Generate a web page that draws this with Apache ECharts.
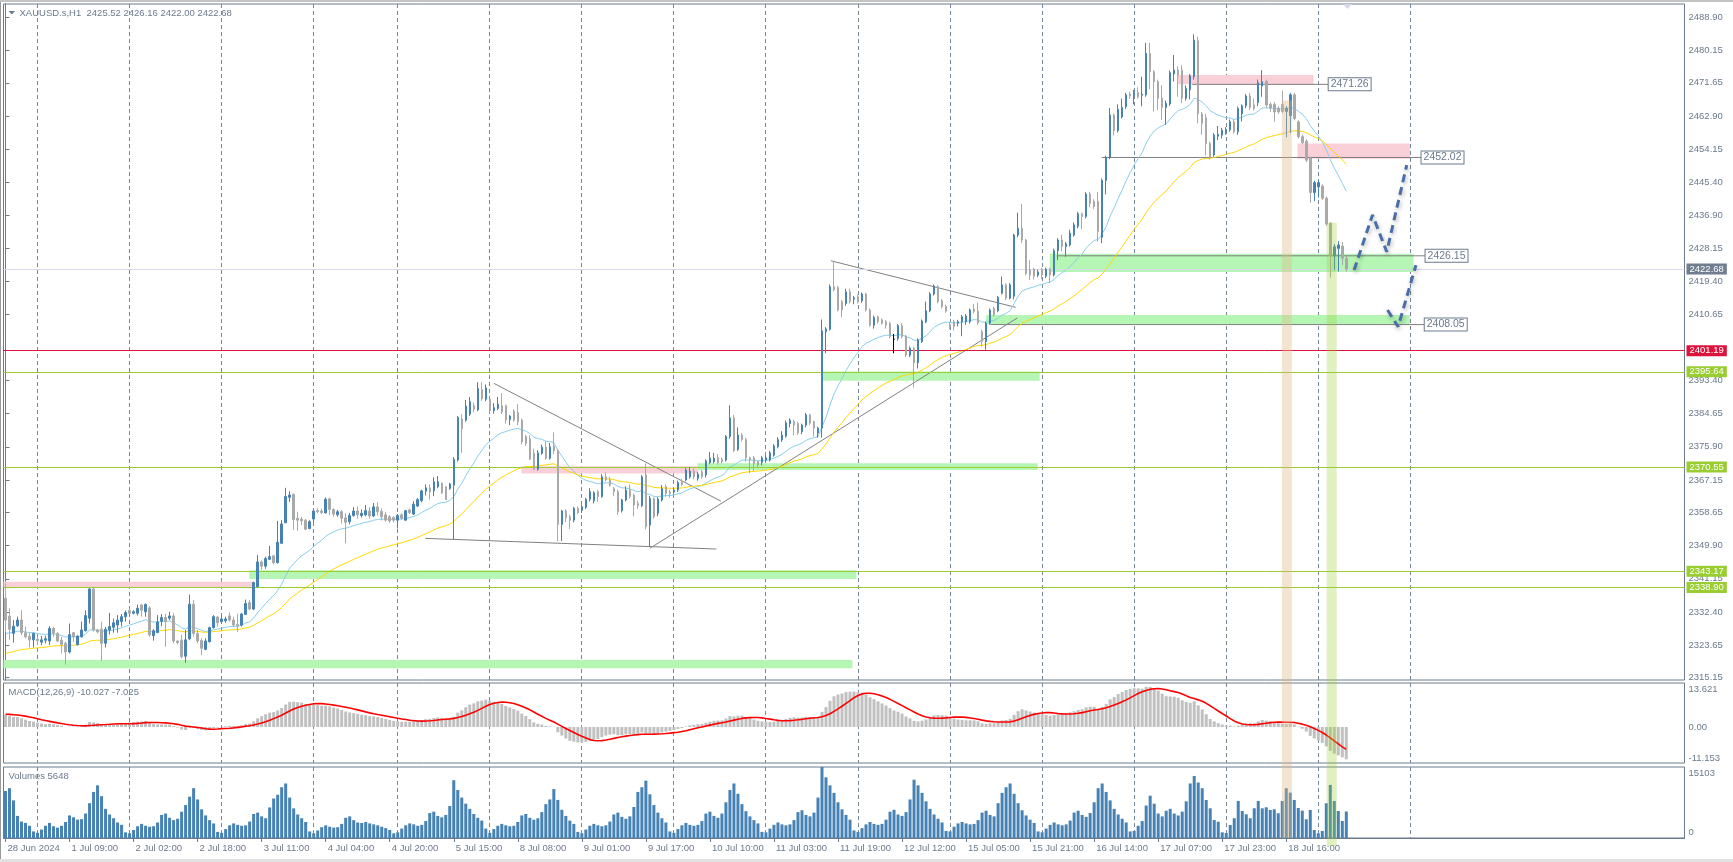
<!DOCTYPE html>
<html><head><meta charset="utf-8">
<script src="https://cdn.jsdelivr.net/npm/echarts@6/dist/echarts.min.js"></script>
<style>html,body{margin:0;padding:0;background:#fff;overflow:hidden}#c{width:1733px;height:862px}</style>
</head><body><div id="c"></div>
<script>
// ---------- DATA ----------
// trading sessions of the H1 bars: [day, first hour, last hour]
const sessions = [['28 Jun',16,23],['1 Jul',1,23],['2 Jul',1,23],['3 Jul',1,23],['4 Jul',1,21],['5 Jul',1,23],['8 Jul',1,23],['9 Jul',1,23],['10 Jul',1,23],['11 Jul',1,23],['12 Jul',1,23],['15 Jul',1,23],['16 Jul',1,23],['17 Jul',1,23],['18 Jul',1,23],['19 Jul',1,8]];
// time-axis tick labels (one every 16 bars)
const xTickLabels = ['28 Jun 2024','1 Jul 09:00','2 Jul 02:00','2 Jul 18:00','3 Jul 11:00','4 Jul 04:00','4 Jul 20:00','5 Jul 15:00','8 Jul 08:00','9 Jul 01:00','9 Jul 17:00','10 Jul 10:00','11 Jul 03:00','11 Jul 19:00','12 Jul 12:00','15 Jul 05:00','15 Jul 21:00','16 Jul 14:00','17 Jul 07:00','17 Jul 23:00','18 Jul 16:00'];
const xTickStep = 16;
// bar index of each day start (vertical dashed grid)
const dayStarts = [8,31,54,77,98,121,144,167,190,213,236,259,282,305,328,351];
// price axis tick labels
const priceTicks = [2488.90,2480.15,2471.65,2462.90,2454.15,2445.40,2436.90,2428.15,2419.40,2410.65,2393.40,2384.65,2375.90,2367.15,2358.65,2349.90,2341.15,2332.40,2323.65,2315.15];
const priceRange = [2314.54, 2492.40];
const macdRange = [-11.153, 13.621];
const macdAxisLabels = ['13.621','0.00','-11.153'];
const volRange = [0, 15103];
const volAxisLabels = ['15103','0'];

// candles per day: [open, high, low, close]
const c28Jun = [[2336.0,2339.9,2327.2,2330.3],[2331.3,2333.4,2325.1,2327.9],[2326.8,2330.3,2324.4,2328.7],[2328.8,2331.2,2328.5,2330.3],[2330.3,2332.9,2326.4,2327.0],[2327.0,2328.6,2325.5,2325.9],[2326.0,2327.0,2323.1,2325.1],[2325.1,2327.0,2323.1,2326.8]];
const c01Jul = [[2325.3,2326.0,2323.8,2324.9],[2324.5,2326.1,2323.7,2325.1],[2325.0,2326.2,2324.2,2325.4],[2324.8,2328.7,2323.7,2328.1],[2328.1,2328.5,2325.9,2326.8],[2326.8,2327.2,2324.5,2324.8],[2325.0,2325.9,2321.5,2323.9],[2324.2,2324.6,2318.6,2321.9],[2321.9,2329.4,2321.5,2326.5],[2327.0,2327.2,2324.6,2325.9],[2323.8,2326.3,2323.7,2326.1],[2325.9,2329.9,2325.7,2327.7],[2327.5,2332.9,2327.3,2331.5],[2330.8,2338.7,2329.4,2338.5],[2338.5,2338.8,2327.3,2327.7],[2327.7,2328.0,2326.8,2327.2],[2327.9,2329.9,2319.5,2324.2],[2324.2,2328.5,2323.1,2327.9],[2327.7,2332.2,2326.5,2328.6],[2328.4,2330.7,2327.0,2329.6],[2329.0,2331.6,2327.0,2330.3],[2329.9,2331.9,2328.6,2331.2],[2331.2,2332.8,2329.9,2332.3]];
const c02Jul = [[2332.8,2333.4,2332.0,2332.1],[2332.1,2332.9,2331.8,2332.5],[2332.1,2334.4,2331.5,2333.4],[2334.3,2334.5,2331.2,2332.9],[2332.5,2334.7,2331.2,2334.4],[2333.5,2334.0,2325.9,2326.4],[2326.2,2327.9,2324.9,2327.5],[2327.0,2331.6,2327.0,2329.8],[2330.0,2331.9,2328.7,2331.0],[2331.0,2332.0,2323.3,2329.9],[2330.8,2332.5,2330.3,2331.4],[2331.4,2332.1,2324.2,2324.8],[2324.8,2325.0,2323.9,2324.4],[2325.0,2326.4,2320.2,2320.7],[2320.8,2327.7,2319.1,2325.1],[2325.4,2337.0,2325.0,2334.5],[2334.5,2335.6,2325.9,2326.8],[2326.8,2327.7,2324.2,2324.8],[2324.9,2325.5,2321.1,2322.9],[2322.6,2325.5,2322.4,2324.8],[2324.6,2328.6,2324.4,2328.3],[2328.3,2331.6,2328.1,2331.2],[2331.1,2331.4,2328.6,2329.6]];
const c03Jul = [[2329.9,2331.6,2329.4,2330.6],[2330.1,2331.2,2329.6,2330.6],[2331.4,2332.3,2329.9,2330.3],[2330.3,2331.2,2328.6,2329.0],[2329.2,2332.0,2327.2,2328.8],[2329.0,2332.2,2328.6,2331.9],[2331.8,2335.7,2331.7,2334.7],[2334.9,2335.6,2332.9,2333.2],[2333.2,2340.4,2332.9,2340.2],[2339.1,2347.4,2338.9,2345.6],[2345.6,2346.0,2343.5,2344.5],[2344.5,2347.0,2343.8,2346.5],[2346.3,2349.8,2346.1,2347.0],[2347.2,2347.4,2345.0,2345.4],[2345.4,2356.4,2345.2,2350.8],[2350.5,2356.6,2350.5,2355.6],[2355.9,2365.1,2355.9,2362.8],[2362.6,2364.2,2361.4,2363.2],[2363.4,2363.6,2354.0,2356.8],[2357.1,2358.8,2353.8,2356.6],[2356.9,2357.5,2355.3,2356.4],[2356.6,2356.9,2354.0,2354.2],[2354.4,2356.6,2354.2,2356.2]];
const c04Jul = [[2356.9,2359.3,2355.9,2359.0],[2359.1,2359.7,2358.4,2358.8],[2359.0,2359.6,2358.2,2358.6],[2358.5,2362.6,2358.4,2362.1],[2362.2,2362.5,2357.9,2359.4],[2359.4,2359.7,2357.5,2358.2],[2358.0,2359.3,2357.5,2358.8],[2358.8,2359.2,2355.7,2357.1],[2357.2,2358.4,2350.5,2356.0],[2356.2,2358.5,2355.5,2357.8],[2357.8,2360.0,2357.5,2359.0],[2359.0,2360.2,2357.0,2358.0],[2357.8,2359.4,2357.3,2358.4],[2358.0,2360.6,2357.6,2359.1],[2359.0,2360.0,2357.0,2357.7],[2357.7,2361.1,2357.4,2360.1],[2360.1,2361.3,2357.8,2358.8],[2358.9,2359.7,2356.5,2357.5],[2358.0,2358.8,2356.2,2356.6],[2357.5,2357.9,2355.9,2356.4],[2357.3,2357.6,2356.0,2356.6]];
const c05Jul = [[2356.6,2358.2,2354.4,2357.8],[2358.0,2358.4,2356.7,2357.1],[2356.6,2359.3,2356.4,2359.1],[2359.3,2359.6,2358.2,2358.6],[2358.2,2361.6,2358.0,2360.8],[2360.3,2362.4,2360.1,2362.0],[2361.7,2364.6,2361.3,2364.3],[2364.2,2366.0,2363.1,2365.1],[2365.1,2366.0,2362.0,2364.0],[2364.3,2367.9,2362.9,2366.7],[2365.4,2368.2,2365.0,2366.7],[2366.3,2366.5,2363.5,2363.8],[2365.4,2365.6,2361.9,2362.0],[2364.9,2366.4,2364.6,2366.1],[2365.8,2373.2,2351.5,2372.6],[2372.4,2384.0,2372.0,2383.6],[2383.2,2384.5,2374.3,2380.7],[2382.9,2388.2,2382.5,2386.6],[2384.5,2389.0,2384.0,2387.8],[2386.7,2387.5,2385.0,2385.8],[2385.6,2392.9,2385.3,2391.2],[2391.0,2392.9,2388.0,2388.6],[2388.4,2392.3,2387.9,2391.4]];
const c08Jul = [[2388.4,2388.5,2384.9,2385.4],[2385.4,2387.4,2384.6,2386.2],[2386.0,2389.0,2385.5,2387.1],[2386.7,2390.0,2384.5,2385.1],[2386.7,2387.0,2382.0,2382.9],[2383.1,2384.2,2381.6,2384.0],[2385.3,2385.8,2382.5,2382.9],[2384.9,2387.1,2381.6,2382.5],[2382.9,2383.3,2376.5,2377.2],[2378.6,2379.0,2376.1,2376.8],[2377.9,2378.9,2372.4,2372.7],[2374.2,2375.4,2369.7,2370.0],[2370.0,2375.0,2369.6,2374.3],[2374.2,2376.5,2373.8,2375.8],[2375.8,2377.3,2372.5,2372.9],[2372.9,2376.9,2372.5,2375.9],[2376.1,2379.7,2374.0,2374.9],[2374.9,2375.3,2351.1,2355.5],[2355.5,2359.3,2351.1,2359.0],[2359.0,2359.5,2356.1,2357.2],[2357.5,2358.0,2354.3,2356.6],[2356.6,2360.1,2356.0,2359.7],[2359.7,2360.2,2358.2,2358.6]];
const c09Jul = [[2359.2,2360.6,2358.5,2360.1],[2360.0,2362.5,2359.5,2362.1],[2362.1,2365.0,2361.5,2364.1],[2361.7,2364.2,2361.0,2363.8],[2364.1,2364.5,2361.4,2362.8],[2362.8,2368.7,2362.5,2368.0],[2368.0,2369.1,2366.8,2367.2],[2367.2,2368.0,2365.4,2365.8],[2364.9,2365.3,2363.0,2364.1],[2364.1,2364.6,2358.0,2358.8],[2359.1,2362.2,2358.6,2361.9],[2361.9,2365.5,2361.5,2364.5],[2364.5,2366.0,2362.3,2362.8],[2363.2,2363.6,2357.6,2360.6],[2361.0,2361.7,2359.6,2360.4],[2360.4,2368.5,2360.0,2368.0],[2368.5,2371.5,2354.2,2354.9],[2355.3,2363.0,2349.6,2362.3],[2362.3,2362.6,2357.0,2357.5],[2358.4,2362.6,2357.6,2362.1],[2361.9,2365.8,2361.5,2364.9],[2365.4,2366.0,2362.8,2363.6],[2364.0,2364.6,2362.5,2363.6]];
const c10Jul = [[2364.0,2365.0,2363.5,2364.5],[2364.5,2367.0,2364.0,2366.5],[2366.5,2367.5,2365.5,2366.0],[2367.2,2370.3,2366.8,2369.8],[2368.0,2370.5,2367.5,2369.5],[2369.5,2370.2,2367.3,2368.0],[2367.6,2369.3,2367.0,2368.7],[2369.3,2369.8,2367.5,2368.0],[2368.5,2372.6,2367.8,2372.2],[2371.7,2374.5,2371.3,2372.9],[2372.0,2374.3,2371.5,2372.9],[2373.0,2374.0,2371.2,2371.7],[2372.6,2373.1,2371.5,2372.0],[2372.4,2379.0,2372.0,2378.6],[2378.6,2386.8,2378.0,2383.5],[2383.5,2384.3,2374.5,2374.9],[2375.2,2381.0,2374.8,2379.0],[2379.0,2379.5,2377.3,2377.8],[2377.8,2378.3,2372.0,2373.0],[2373.0,2373.3,2369.0,2372.4],[2373.0,2373.5,2369.5,2371.5],[2372.0,2372.3,2370.2,2371.1],[2371.8,2373.5,2371.0,2373.0]];
const c11Jul = [[2372.4,2373.5,2372.0,2373.0],[2372.4,2374.8,2372.0,2374.3],[2373.7,2376.6,2373.3,2376.1],[2375.9,2378.4,2375.5,2377.8],[2377.7,2380.0,2377.2,2379.0],[2378.7,2382.8,2378.3,2382.2],[2382.0,2383.4,2381.0,2382.9],[2382.5,2383.0,2378.9,2381.6],[2382.0,2382.4,2379.0,2379.6],[2379.9,2382.0,2379.2,2381.6],[2381.6,2384.8,2381.0,2384.3],[2384.3,2384.6,2381.6,2382.1],[2382.5,2382.8,2378.6,2380.8],[2379.5,2381.2,2378.3,2380.8],[2380.8,2409.4,2378.3,2406.4],[2406.2,2407.4,2400.5,2406.9],[2406.8,2418.6,2406.5,2418.0],[2418.0,2424.8,2416.8,2417.2],[2417.8,2418.2,2411.5,2411.9],[2414.1,2414.5,2410.0,2411.9],[2413.6,2417.5,2413.0,2416.7],[2416.7,2417.5,2413.6,2414.1],[2414.7,2415.6,2413.4,2415.1]];
const c12Jul = [[2415.4,2416.0,2413.6,2414.1],[2414.3,2416.5,2413.8,2416.1],[2416.1,2416.4,2411.5,2411.9],[2411.9,2412.3,2407.5,2407.9],[2407.9,2410.4,2407.0,2409.9],[2410.1,2410.4,2408.3,2408.8],[2409.3,2409.7,2408.0,2408.4],[2408.8,2409.3,2407.0,2407.9],[2408.4,2408.8,2404.4,2404.9],[2404.2,2405.6,2400.5,2404.2],[2404.4,2408.2,2403.8,2407.8],[2407.8,2408.4,2404.4,2404.9],[2405.0,2405.3,2399.5,2400.0],[2400.0,2402.3,2399.5,2401.8],[2401.8,2402.2,2391.5,2398.0],[2398.0,2404.4,2396.5,2404.0],[2403.6,2409.4,2403.2,2409.0],[2408.8,2414.1,2408.4,2411.7],[2411.7,2416.6,2411.3,2416.1],[2416.1,2418.6,2415.7,2418.2],[2418.0,2418.4,2413.6,2414.1],[2414.3,2414.8,2412.3,2412.8],[2412.9,2413.3,2411.2,2411.6]];
const c15Jul = [[2408.1,2408.6,2406.8,2407.5],[2408.8,2409.3,2406.5,2407.5],[2408.4,2409.3,2407.6,2408.8],[2408.8,2410.6,2405.0,2410.1],[2408.8,2410.8,2408.0,2410.3],[2408.8,2412.3,2408.3,2411.9],[2412.1,2413.5,2411.0,2411.5],[2411.6,2413.8,2408.0,2408.5],[2406.2,2406.8,2402.2,2403.6],[2403.6,2408.8,2401.4,2408.4],[2408.4,2412.3,2408.0,2411.9],[2412.3,2412.7,2410.2,2410.6],[2411.7,2415.6,2411.3,2415.2],[2416.3,2420.7,2416.0,2418.5],[2418.5,2418.9,2414.5,2415.0],[2415.0,2419.0,2414.7,2418.5],[2415.5,2431.9,2414.7,2431.6],[2431.6,2437.5,2431.0,2433.4],[2433.4,2439.8,2429.5,2430.3],[2430.3,2430.6,2421.0,2421.5],[2422.4,2425.0,2419.8,2421.1],[2422.6,2423.0,2419.9,2420.8],[2421.1,2422.5,2420.5,2421.9]];
const c16Jul = [[2422.6,2423.0,2420.0,2421.1],[2420.8,2423.0,2420.3,2422.6],[2422.6,2423.0,2419.0,2421.1],[2421.1,2428.0,2420.7,2427.5],[2427.5,2430.8,2425.0,2430.3],[2430.3,2431.7,2427.3,2428.6],[2428.6,2429.8,2425.9,2429.3],[2429.0,2433.0,2428.6,2432.1],[2431.6,2434.9,2431.2,2434.3],[2433.9,2437.7,2433.4,2437.2],[2437.2,2437.5,2433.2,2436.5],[2436.5,2442.9,2436.0,2442.4],[2442.4,2443.0,2438.9,2439.9],[2440.4,2441.0,2438.5,2439.1],[2440.5,2442.9,2429.9,2432.5],[2431.0,2446.5,2429.5,2446.0],[2446.0,2452.5,2442.3,2452.0],[2452.0,2465.0,2451.6,2463.2],[2463.2,2463.6,2457.8,2459.1],[2459.1,2466.0,2458.6,2464.7],[2462.7,2467.5,2462.3,2465.2],[2465.4,2469.0,2464.8,2468.5],[2468.7,2469.3,2467.5,2468.2]];
const c17Jul = [[2468.5,2469.8,2466.0,2469.1],[2469.1,2470.5,2467.5,2468.0],[2468.4,2473.3,2465.5,2468.7],[2468.5,2482.2,2468.0,2479.4],[2479.4,2482.2,2470.0,2474.6],[2474.6,2475.0,2464.1,2472.0],[2472.0,2472.5,2464.5,2467.6],[2467.6,2471.0,2461.9,2465.2],[2465.2,2467.0,2460.6,2466.3],[2466.1,2474.9,2465.6,2474.3],[2474.0,2479.0,2472.0,2475.0],[2475.0,2476.0,2468.0,2473.7],[2475.0,2476.3,2466.3,2467.6],[2467.6,2471.0,2467.0,2470.2],[2469.8,2474.0,2467.3,2473.5],[2473.3,2484.4,2472.5,2482.9],[2482.7,2483.8,2461.0,2463.5],[2463.5,2464.0,2458.0,2461.0],[2462.5,2463.5,2452.6,2455.7],[2455.7,2456.2,2451.5,2452.2],[2452.7,2458.4,2452.2,2457.9],[2457.6,2460.3,2456.6,2458.1],[2457.9,2459.8,2457.0,2459.2]];
const c18Jul = [[2458.8,2460.0,2458.0,2459.4],[2459.3,2462.0,2458.8,2461.4],[2461.4,2462.0,2458.3,2458.8],[2458.8,2465.4,2458.0,2464.9],[2463.5,2466.0,2461.5,2465.6],[2465.6,2468.7,2465.0,2468.2],[2468.2,2469.0,2464.5,2465.2],[2465.9,2467.5,2464.4,2464.9],[2466.5,2472.5,2465.5,2471.7],[2470.8,2475.0,2468.0,2472.0],[2472.0,2472.5,2465.0,2465.8],[2466.0,2466.5,2464.0,2465.0],[2466.0,2466.6,2461.4,2464.0],[2465.0,2465.5,2463.5,2464.0],[2466.0,2469.6,2463.6,2464.1],[2464.1,2465.5,2457.3,2465.0],[2463.0,2469.0,2458.4,2468.5],[2468.5,2469.0,2461.8,2462.3],[2461.4,2461.8,2457.0,2457.5],[2457.5,2458.0,2455.5,2455.9],[2456.3,2456.8,2450.8,2451.3],[2451.8,2452.2,2440.1,2442.8],[2442.8,2445.9,2440.5,2445.4]];
const c19Jul = [[2444.3,2446.0,2441.5,2445.4],[2444.5,2445.0,2440.8,2441.3],[2441.3,2441.8,2434.0,2434.5],[2434.7,2435.0,2420.4,2426.4],[2426.1,2429.2,2422.4,2428.5],[2428.1,2430.0,2422.0,2429.0],[2428.7,2429.8,2423.7,2425.5],[2425.52,2426.16,2422.00,2422.68]];

// tick volumes per day
const v28Jun = [10000,10600,8000,4700,3500,3200,2600,1400];
const v01Jul = [1100,1800,2600,3200,2500,2200,2600,3400,4800,4400,3900,4000,5200,7400,9800,11200,8900,6200,5000,4200,3300,2800,1200];
const v02Jul = [1000,1700,2500,3000,2600,2400,2500,3300,4900,5200,4300,3800,4100,5600,7000,8800,10600,8200,6100,4800,3800,3100,1300];
const v03Jul = [1100,1900,2700,3100,2800,2600,2700,3500,5100,5400,4600,4200,6500,8400,9200,10800,11600,8600,6300,5000,4200,3400,1400];
const v04Jul = [1000,1600,2300,2700,2400,2200,2300,3000,4300,4600,3800,3300,3200,3400,3100,2900,2700,2400,2100,1700,1000];
const v05Jul = [1200,2000,2700,3100,2900,2600,2800,3600,5300,5600,4700,4400,4900,6800,12300,10200,8600,7300,6200,5100,4300,3700,2000];
const v08Jul = [1100,1900,2600,3000,2700,2500,2600,3400,4800,5100,4300,3900,4200,5500,7200,8200,10400,8100,6000,4700,3700,3000,1300];
const v09Jul = [1000,1800,2600,3000,2700,2500,2700,3500,5000,5400,4500,4100,4600,6600,9800,10800,12200,9300,7000,5400,4200,3300,1400];
const v10Jul = [1100,1900,2700,3200,2800,2600,2800,3600,5200,5600,4700,4300,5200,7600,10200,11600,9400,7200,5700,4600,3800,3100,1300];
const v11Jul = [1200,2000,2800,3300,2900,2700,2900,3800,5500,5900,4900,4600,5400,8600,15103,12900,11200,9600,7600,6100,4900,3900,1600];
const v12Jul = [1300,2100,2900,3400,3000,2800,3000,3900,5600,6000,5000,4700,5500,8200,12400,11200,9600,7800,6200,5000,4100,3300,1500];
const v15Jul = [1400,2400,3100,3400,3100,2900,3000,3800,5400,5800,4900,4600,7400,9600,10800,11600,9400,7400,5900,4800,3900,3200,1400];
const v16Jul = [1200,2000,2800,3300,2900,2700,2900,3700,5400,5800,4900,4500,5300,7600,10600,11600,9800,8000,6200,5000,4100,3300,1400];
const v17Jul = [1500,2600,3600,6900,9000,7300,5200,4600,5800,6200,5200,4800,5600,7800,11600,13200,11800,10590,8090,6320,3830,3470,1210];
const v18Jul = [1065,2770,4200,7880,5750,5050,4200,6320,7880,6320,6540,5960,6110,5260,7880,10590,9650,8090,6390,5810,3980,5960,1700];
const v19Jul = [1000,1490,7390,11290,7880,5750,3620,5648];

// indicator seeds read at the first visible bar
const ma20Seed = 2326.8, ma50Seed = 2321.5;
const macdFastSeed = 2328.6, macdSlowSeed = 2324.9, macdSignalSeed = 4.0;

// horizontal price marks on the right axis
const markPrices = [2422.68, 2401.19, 2395.64, 2370.55, 2343.17, 2338.90];
// drawn zones: [from bar, to bar, low price, high price]
const zoneFrom = [-0.5, 60.9, -0.5, 128.9, 172.9, 204.2, 245.0, 260.9, 292.8, 322.8];
const zoneTo   = [61.9, 212.6, 211.6, 173.1, 257.9, 258.4, 350.9, 351.8, 326.8, 350.9];
const zoneLow  = [2339.0, 2341.1, 2317.6, 2368.9, 2369.8, 2393.3, 2408.2, 2421.9, 2471.3, 2451.7];
const zoneHigh = [2340.4, 2343.4, 2319.8, 2370.8, 2371.6, 2395.7, 2410.6, 2426.7, 2473.7, 2455.7];
const zoneKind = ['sell','buy','buy','sell','buy','buy','buy','buy','sell','sell'];
// labelled levels
const levelPrices = [2471.26, 2452.02, 2426.15, 2408.05];
const levelFrom = [296.5, 273.9, 262.8, 246.1];
const levelTo = [330.6, 353.8, 354.8, 354.6];
// trend lines [[bar, price], [bar, price]]
const trendLines = [[[122,2392.6],[178.75,2361.6]], [[104.9,2351.8],[177.6,2349.0]], [[161,2349.2],[252.8,2409.8]], [[206.2,2424.85],[252.4,2412.6]]];
// forecast paths
const forecastA = [[336.95,2422.4],[341.55,2436.9],[345.1,2427.2],[350.1,2450.0]];
const forecastB = [[345.3,2411.9],[347.95,2407.5],[352.4,2423.7]];
// highlighted bars (vertical bands)
const bandFrom = [318.9, 330.1];
const bandTo = [321.4, 332.6];
const bandTop = [2467.0, 2434.9];

// ---------- BUILD ----------
const candles = [].concat(c28Jun,c01Jul,c02Jul,c03Jul,c04Jul,c05Jul,c08Jul,c09Jul,c10Jul,c11Jul,c12Jul,c15Jul,c16Jul,c17Jul,c18Jul,c19Jul);
const volumes = [].concat(v28Jun,v01Jul,v02Jul,v03Jul,v04Jul,v05Jul,v08Jul,v09Jul,v10Jul,v11Jul,v12Jul,v15Jul,v16Jul,v17Jul,v18Jul,v19Jul);
const closes = candles.map(c => c[3]);
const SLOTS = 420;
const categories = [];
sessions.forEach(([d,h0,h1]) => { for (let h = h0; h <= h1; h++) categories.push(d + ' ' + String(h).padStart(2,'0') + ':00'); });
for (let i = categories.length; i < SLOTS; i++) categories.push('f' + i);

function ema(src, period, seed) {
  const k = 2 / (period + 1); const out = []; let e = seed;
  src.forEach((v, i) => { if (i > 0) e = e + k * (v - e); out.push(+e.toFixed(3)); });
  return out;
}
const ma20 = ema(closes, 20, ma20Seed);
const ma50 = ema(closes, 50, ma50Seed);
const fast = ema(closes, 12, macdFastSeed), slow = ema(closes, 26, macdSlowSeed);
const macdMain = fast.map((f, i) => +(f - slow[i]).toFixed(3));
const macdSignal = macdMain.map((_, i) => { let s = 0; for (let j = i - 8; j <= i; j++) s += j < 0 ? macdSignalSeed : macdMain[j]; return +(s / 9).toFixed(3); });

const FONT = "'Liberation Sans', Arial, sans-serif";
const FG = '#6b7a8d';
const GRIDC = '#778899';
const BULL = '#4682b4', BEAR = '#a9a9a9';
const L = 3.5, W = 1681;
const grids = [
  {left: L, top: 4, width: W, height: 676, show: true, borderColor: FG, borderWidth: 1, backgroundColor: 'transparent'},
  {left: L, top: 683, width: W, height: 80, show: true, borderColor: FG, borderWidth: 1, backgroundColor: 'transparent'},
  {left: L, top: 767, width: W, height: 71, show: true, borderColor: FG, borderWidth: 1, backgroundColor: 'transparent'}
];
const lblStyle = {color: FG, fontSize: 9.5, fontFamily: FONT};

const candleData = candles.map(c => {
  const v = [c[0], c[3], c[2], c[1]];
  if (c[0] === c[3]) return {value: v, itemStyle: {color: '#000', color0: '#000', borderColor: '#000', borderColor0: '#000'}};
  return v;
});

function vlineRender(params, api) {
  const x = Math.floor(api.coord([api.value(0), 0])[0]) + 0.5;
  const cs = params.coordSys;
  return {type: 'line', silent: true, shape: {x1: x, y1: cs.y, x2: x, y2: cs.y + cs.height}, style: {stroke: GRIDC, lineWidth: 1, lineDash: [4, 3]}};
}
const zoneFill = {sell: '#f9cfd8', buy: '#b5f6b5'};
function zoneRender(params, api) {
  const a = api.coord([api.value(0), api.value(3)]);
  const b = api.coord([api.value(1), api.value(2)]);
  return {type: 'rect', silent: true, shape: {x: a[0], y: a[1], width: b[0] - a[0], height: b[1] - a[1]}, style: {fill: zoneFill[zoneKind[params.dataIndex]]}};
}
const bandFill = ['rgba(222,184,135,0.38)', 'rgba(154,205,50,0.30)'];
const bandBottom = [838, 846];
function bandRender(params, api) {
  const a = api.coord([api.value(0), api.value(2)]);
  const b = api.coord([api.value(1), api.value(2)]);
  return {type: 'rect', silent: true, shape: {x: a[0], y: a[1], width: b[0] - a[0], height: bandBottom[params.dataIndex] - a[1]}, style: {fill: bandFill[params.dataIndex]}};
}
function boxRender(params, api) {
  const p = api.coord([api.value(0), api.value(1)]);
  return {type: 'text', silent: true, x: p[0], y: p[1], style: {text: api.value(1).toFixed(2), fill: FG, font: '10.5px ' + FONT, verticalAlign: 'middle', align: 'left', backgroundColor: '#fff', borderColor: FG, borderWidth: 1, padding: [1, 2, 0, 2]}};
}

const markLineColors = ['#d8d9ec', '#dc143c', '#9acd32', '#9acd32', '#9acd32', '#9acd32'];
const markBoxColors = ['#6f7d8f', '#dc143c', '#9acd32', '#9acd32', '#9acd32', '#9acd32'];

const series = [
  {type: 'custom', xAxisIndex: 3, yAxisIndex: 0, z: 1, silent: true, renderItem: vlineRender, data: dayStarts.map(d => [d])},
  {type: 'custom', xAxisIndex: 3, yAxisIndex: 0, z: 2, silent: true, clip: true, renderItem: zoneRender,
   data: zoneFrom.map((f, k) => [f, zoneTo[k], zoneLow[k], zoneHigh[k]])},
];
trendLines.forEach(t => series.push({type: 'line', xAxisIndex: 3, yAxisIndex: 0, z: 3, silent: true, showSymbol: false, symbol: 'none', data: t, lineStyle: {color: '#808080', width: 1}}));
levelPrices.forEach((p, k) => series.push({type: 'line', xAxisIndex: 3, yAxisIndex: 0, z: 3, silent: true, showSymbol: false, symbol: 'none', data: [[levelFrom[k], p], [levelTo[k], p]], lineStyle: {color: '#7f7f7f', width: 1}}));
series.push(
  {type: 'line', xAxisIndex: 0, yAxisIndex: 0, z: 4, silent: true, showSymbol: false, symbol: 'none', data: ma20, lineStyle: {color: '#87ceeb', width: 1}},
  {type: 'line', xAxisIndex: 0, yAxisIndex: 0, z: 4, silent: true, showSymbol: false, symbol: 'none', data: ma50, lineStyle: {color: '#ffd700', width: 1}},
  {type: 'candlestick', xAxisIndex: 0, yAxisIndex: 0, z: 5, silent: true, barWidth: 2, data: candleData,
   itemStyle: {color: BULL, color0: BEAR, borderColor: BULL, borderColor0: BEAR, borderColorDoji: '#000', borderWidth: 1},
   markLine: {silent: true, symbol: ['none', 'none'], animation: false,
     data: markPrices.map((p, k) => ({yAxis: p, lineStyle: {color: markLineColors[k], width: 1, type: 'solid'},
       label: {show: true, position: 'end', distance: 2, formatter: p.toFixed(2), color: '#fff', backgroundColor: markBoxColors[k], padding: [1, 3, 0, 3], fontSize: 9.5, fontFamily: FONT}}))}},
  {type: 'line', xAxisIndex: 3, yAxisIndex: 0, z: 6, silent: true, showSymbol: false, symbol: 'none', data: forecastA,
   lineStyle: {color: '#4a6ea8', width: 3, type: [8, 5], shadowColor: 'rgba(0,0,0,0.3)', shadowBlur: 4, shadowOffsetX: 1, shadowOffsetY: 2}},
  {type: 'line', xAxisIndex: 3, yAxisIndex: 0, z: 6, silent: true, showSymbol: false, symbol: 'none', data: forecastB,
   lineStyle: {color: '#4a6ea8', width: 3, type: [8, 5], shadowColor: 'rgba(0,0,0,0.3)', shadowBlur: 4, shadowOffsetX: 1, shadowOffsetY: 2}},
  {type: 'custom', xAxisIndex: 3, yAxisIndex: 0, z: 7, silent: true, clip: false, renderItem: boxRender, data: levelPrices.map((p, k) => [levelTo[k], p])},
  {type: 'custom', xAxisIndex: 4, yAxisIndex: 1, z: 1, silent: true, renderItem: vlineRender, data: dayStarts.map(d => [d])},
  {type: 'bar', xAxisIndex: 1, yAxisIndex: 1, z: 3, silent: true, barWidth: 3, data: macdMain, itemStyle: {color: '#c0c0c0'}},
  {type: 'line', xAxisIndex: 1, yAxisIndex: 1, z: 4, silent: true, showSymbol: false, symbol: 'none', data: macdSignal, lineStyle: {color: '#ff0000', width: 1.6}},
  {type: 'custom', xAxisIndex: 5, yAxisIndex: 2, z: 1, silent: true, renderItem: vlineRender, data: dayStarts.map(d => [d])},
  {type: 'bar', xAxisIndex: 2, yAxisIndex: 2, z: 3, silent: true, barWidth: 3, data: volumes, itemStyle: {color: BULL}},
  {type: 'custom', xAxisIndex: 3, yAxisIndex: 0, z: 20, silent: true, clip: false, renderItem: bandRender, data: bandFrom.map((f, k) => [f, bandTo[k], bandTop[k]])}
);

const isTick = (i) => i % xTickStep === 0 && i / xTickStep < xTickLabels.length;
const option = {
  animation: false,
  textStyle: {fontFamily: FONT},
  grid: grids,
  xAxis: [
    {type: 'category', gridIndex: 0, data: categories, show: false},
    {type: 'category', gridIndex: 1, data: categories, show: false},
    {type: 'category', gridIndex: 2, data: categories, axisLine: {show: true, onZero: false, lineStyle: {color: FG}},
     axisTick: {show: true, alignWithLabel: true, length: 4, interval: isTick, lineStyle: {color: FG}},
     axisLabel: Object.assign({interval: isTick, align: 'left', margin: 5, padding: [0, 0, 0, 2], formatter: (v, i) => xTickLabels[i / xTickStep]}, lblStyle),
     splitLine: {show: false}},
    {type: 'value', gridIndex: 0, min: -0.5, max: SLOTS - 0.5, show: false},
    {type: 'value', gridIndex: 1, min: -0.5, max: SLOTS - 0.5, show: false},
    {type: 'value', gridIndex: 2, min: -0.5, max: SLOTS - 0.5, show: false}
  ],
  yAxis: [
    {type: 'value', gridIndex: 0, position: 'right', min: priceRange[0], max: priceRange[1], splitLine: {show: false},
     axisLine: {show: true, lineStyle: {color: FG}},
     axisTick: {show: true, length: 4, customValues: priceTicks, lineStyle: {color: FG}},
     axisLabel: Object.assign({customValues: priceTicks, margin: 4, formatter: v => v.toFixed(2)}, lblStyle)},
    {type: 'value', gridIndex: 1, position: 'right', min: macdRange[0], max: macdRange[1], splitLine: {show: false},
     axisLine: {show: false}, axisTick: {show: false},
     axisLabel: Object.assign({customValues: [macdRange[1], 0, macdRange[0]], margin: 4,
       formatter: v => v > 0 ? '{t|' + macdAxisLabels[0] + '}' : (v < 0 ? '{b|' + macdAxisLabels[2] + '}' : macdAxisLabels[1]),
       rich: {t: Object.assign({padding: [12, 0, 0, 0]}, lblStyle), b: Object.assign({padding: [0, 0, 10, 0]}, lblStyle)}}, lblStyle)},
    {type: 'value', gridIndex: 2, position: 'right', min: volRange[0], max: volRange[1], splitLine: {show: false},
     axisLine: {show: false}, axisTick: {show: false},
     axisLabel: Object.assign({customValues: [volRange[1], volRange[0]], margin: 4,
       formatter: v => v > 0 ? '{t|' + volAxisLabels[0] + '}' : '{b|' + volAxisLabels[1] + '}',
       rich: {t: Object.assign({padding: [12, 0, 0, 0]}, lblStyle), b: Object.assign({padding: [0, 0, 12, 0]}, lblStyle)}}, lblStyle)}
  ],
  graphic: [
    {type: 'rect', silent: true, shape: {x: 0, y: 0, width: 1, height: 862}, style: {fill: '#9a9a9a'}},
    {type: 'rect', silent: true, shape: {x: 0, y: 0, width: 1733, height: 2}, style: {fill: '#c4c4c4'}},
    {type: 'rect', silent: true, shape: {x: 0, y: 859, width: 1733, height: 3}, style: {fill: '#e2e2e2'}},
    {type: 'polygon', silent: true, shape: {points: [[1343, 4], [1352, 4], [1347.5, 9]]}, style: {fill: '#d6d6ee'}},
    {type: 'polygon', silent: true, shape: {points: [[8.5, 11], [15, 11], [11.75, 14.5]]}, style: {fill: FG}},
    {type: 'text', silent: true, x: 19.5, y: 13, style: {text: 'XAUUSD.s,H1  2425.52 2426.16 2422.00 2422.68', fill: FG, font: '9.5px ' + FONT, verticalAlign: 'middle'}},
    {type: 'text', silent: true, x: 8.5, y: 692, style: {text: 'MACD(12,26,9) -10.027 -7.025', fill: FG, font: '9.5px ' + FONT, verticalAlign: 'middle'}},
    {type: 'text', silent: true, x: 8.5, y: 776, style: {text: 'Volumes 5648', fill: FG, font: '9.5px ' + FONT, verticalAlign: 'middle'}}
  ],
  series: series
};
const chart = echarts.init(document.getElementById('c'), null, {width: 1733, height: 862});
chart.setOption(option);
</script>
</body></html>
